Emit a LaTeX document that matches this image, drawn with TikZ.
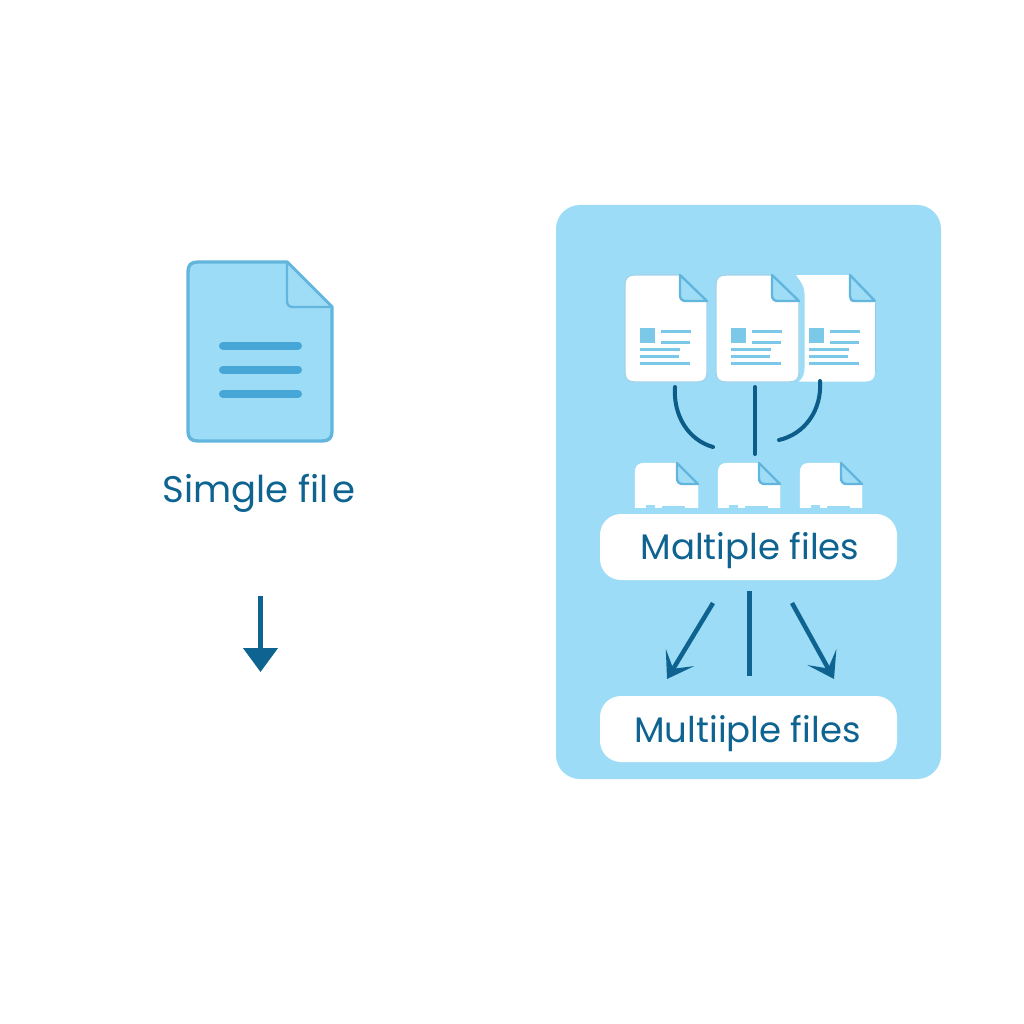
\documentclass[tikz,border=0pt]{standalone}
\usepackage{fontspec}
\setmainfont{Poppins}
\usetikzlibrary{arrows.meta}
\definecolor{panelblue}{HTML}{9DDCF6}
\definecolor{edgeblue}{HTML}{62B6DE}
\definecolor{barblue}{HTML}{46A7D6}
\definecolor{iconblue}{HTML}{7CC8E9}
\definecolor{inkblue}{HTML}{0E6391}
\definecolor{navyblue}{HTML}{0B5C88}
\definecolor{foldblue}{HTML}{9FDDF6}
\tikzset{
  panelbox/.style={fill=panelblue,draw=none,rounded corners=24pt},
  labelbox/.style={fill=white,draw=none,rounded corners=21pt},
  labeltext/.style={text=inkblue,font=\fontsize{35.5}{42}\selectfont,inner sep=0pt,anchor=center},
  bigtext/.style={labeltext,font=\fontsize{37}{44}\selectfont},
  bar/.style={line width=8pt,line cap=round,draw=barblue},
  iconline/.style={line width=3pt,draw=iconblue},
  link/.style={line width=4pt,line cap=round,draw=navyblue},
  droplink/.style={line width=4.5pt,draw=inkblue,-{Stealth[length=24pt,width=34pt,inset=0pt]}},
  arrowlink/.style={line width=4.5pt,draw=inkblue,-{Stealth[length=25pt,width=33pt,inset=13pt]}},
}
% sheet: left, top, right, bottom, fold x, fold y, fill, edge, edge width
\newcommand{\sheet}[9]{%
  \draw[fill=#7,draw=#8,line width=#9pt,line join=round]
    (#1+10,#2) -- (#5,#2) -- (#3,#6) -- (#3,#4-10)
    .. controls (#3,#4-3) and (#3-3,#4) .. (#3-10,#4) -- (#1+10,#4)
    .. controls (#1+3,#4) and (#1,#4-3) .. (#1,#4-10) -- (#1,#2+10)
    .. controls (#1,#2+3) and (#1+3,#2) .. (#1+10,#2) -- cycle;
  \draw[fill=foldblue,draw=edgeblue,line width=2.4pt,line join=round]
    (#5,#2) -- (#3,#6) -- (#5+6,#6) .. controls (#5+2,#6) and (#5,#6-2) .. (#5,#6-6) -- cycle;
}
\newcommand{\icon}[1]{%
  \fill[iconblue] (#1+15,328) rectangle (#1+30,343);
  \draw[iconline] (#1+36,331) -- (#1+66,331);
  \draw[iconline] (#1+36,342) -- (#1+65,342);
  \draw[iconline] (#1+15,349) -- (#1+55,349);
  \draw[iconline] (#1+15,356) -- (#1+54,356);
  \draw[iconline] (#1+15,363) -- (#1+65,363);
}
\newcommand{\smallnotch}[1]{%
  \fill[panelblue] (#1+11,505) rectangle (#1+20,509);
  \fill[panelblue] (#1+27,505.5) rectangle (#1+50,509);
}
\begin{document}
\begin{tikzpicture}[x=1pt,y=-1pt]
\useasboundingbox (0,0) rectangle (1024,1024);
\fill[white] (0,0) rectangle (1024,1024);
% single file
\sheet{188}{262}{332}{441}{287}{307}{panelblue}{edgeblue}{3.4}
\draw[bar] (223,345.5) -- (298,345.5);
\draw[bar] (223,369.5) -- (298,369.5);
\draw[bar] (223,394) -- (298,394);
\node[bigtext] (single) at (259,493) {Simgle fil\hspace{4pt}e};
\coordinate (singletop) at (260.5,596);
\coordinate (singleend) at (260.5,672);
\draw[droplink] (singletop) -- (singleend);
% panel
\node[panelbox,minimum width=385pt,minimum height=574pt,inner sep=0pt] (panel) at (748.5,492) {};
% third sheet, tucked behind the second
\draw[fill=white,draw=none]
  (796,275) -- (850,275) -- (875,301) -- (875,372)
  .. controls (875,378) and (872,381.5) .. (866,381.5) -- (799,381.5)
  .. controls (803,378) and (804.5,374) .. (804.5,368) -- (804.5,294)
  .. controls (804.5,285) and (800,281) .. (796,275) -- cycle;
\draw[fill=foldblue,draw=edgeblue,line width=2.4pt,line join=round]
  (850,275) -- (875,301) -- (855,301) .. controls (851,301) and (850,299) .. (850,296) -- cycle;
\draw[edgeblue!70,line width=1pt] (875,301) -- (875,372);
\icon{794}
\sheet{625}{275}{707}{382}{680}{301}{white}{edgeblue!60}{1.2}
\icon{625}
\sheet{716}{275}{799}{382}{772}{301}{white}{edgeblue!60}{1.2}
\icon{716}
% lower sheets
\sheet{635}{463}{698}{520}{677}{484}{white}{white}{0.4}
\sheet{718}{463}{780}{520}{759}{484}{white}{white}{0.4}
\sheet{800}{463}{862}{520}{841}{484}{white}{white}{0.4}
\fill[panelblue] (630,508) rectangle (870,522);
\smallnotch{635}
\smallnotch{718}
\smallnotch{800}
% connectors above
\coordinate (la) at (675,387); \coordinate (lb) at (713,447);
\coordinate (ca) at (755,387); \coordinate (cb) at (755,454);
\coordinate (ra) at (820,381); \coordinate (rb) at (779,440);
\draw[link] (la) .. controls (673,415) and (688,440) .. (lb);
\draw[link] (ca) -- (cb);
\draw[link] (ra) .. controls (822,410) and (805,434) .. (rb);
% label boxes
\node[labelbox,minimum width=297pt,minimum height=66pt,inner sep=0pt] (multia) at (748.5,547) {};
\node[labeltext] (multiatext) at (750,551) {Maltiple files};
\node[labelbox,minimum width=297pt,minimum height=66pt,inner sep=0pt] (multib) at (748.5,729) {};
\node[labeltext] (multibtext) at (747.5,734) {Multiiple files};
% arrows below
\coordinate (al) at (713,603); \coordinate (ale) at (667,679);
\coordinate (ac) at (749.5,591); \coordinate (ace) at (749.5,676);
\coordinate (ar) at (792,603); \coordinate (are) at (834,679);
\draw[arrowlink] (al) -- (ale);
\draw[line width=4.5pt,draw=inkblue] (ac) -- (ace);
\draw[arrowlink] (ar) -- (are);
\end{tikzpicture}
\end{document}
